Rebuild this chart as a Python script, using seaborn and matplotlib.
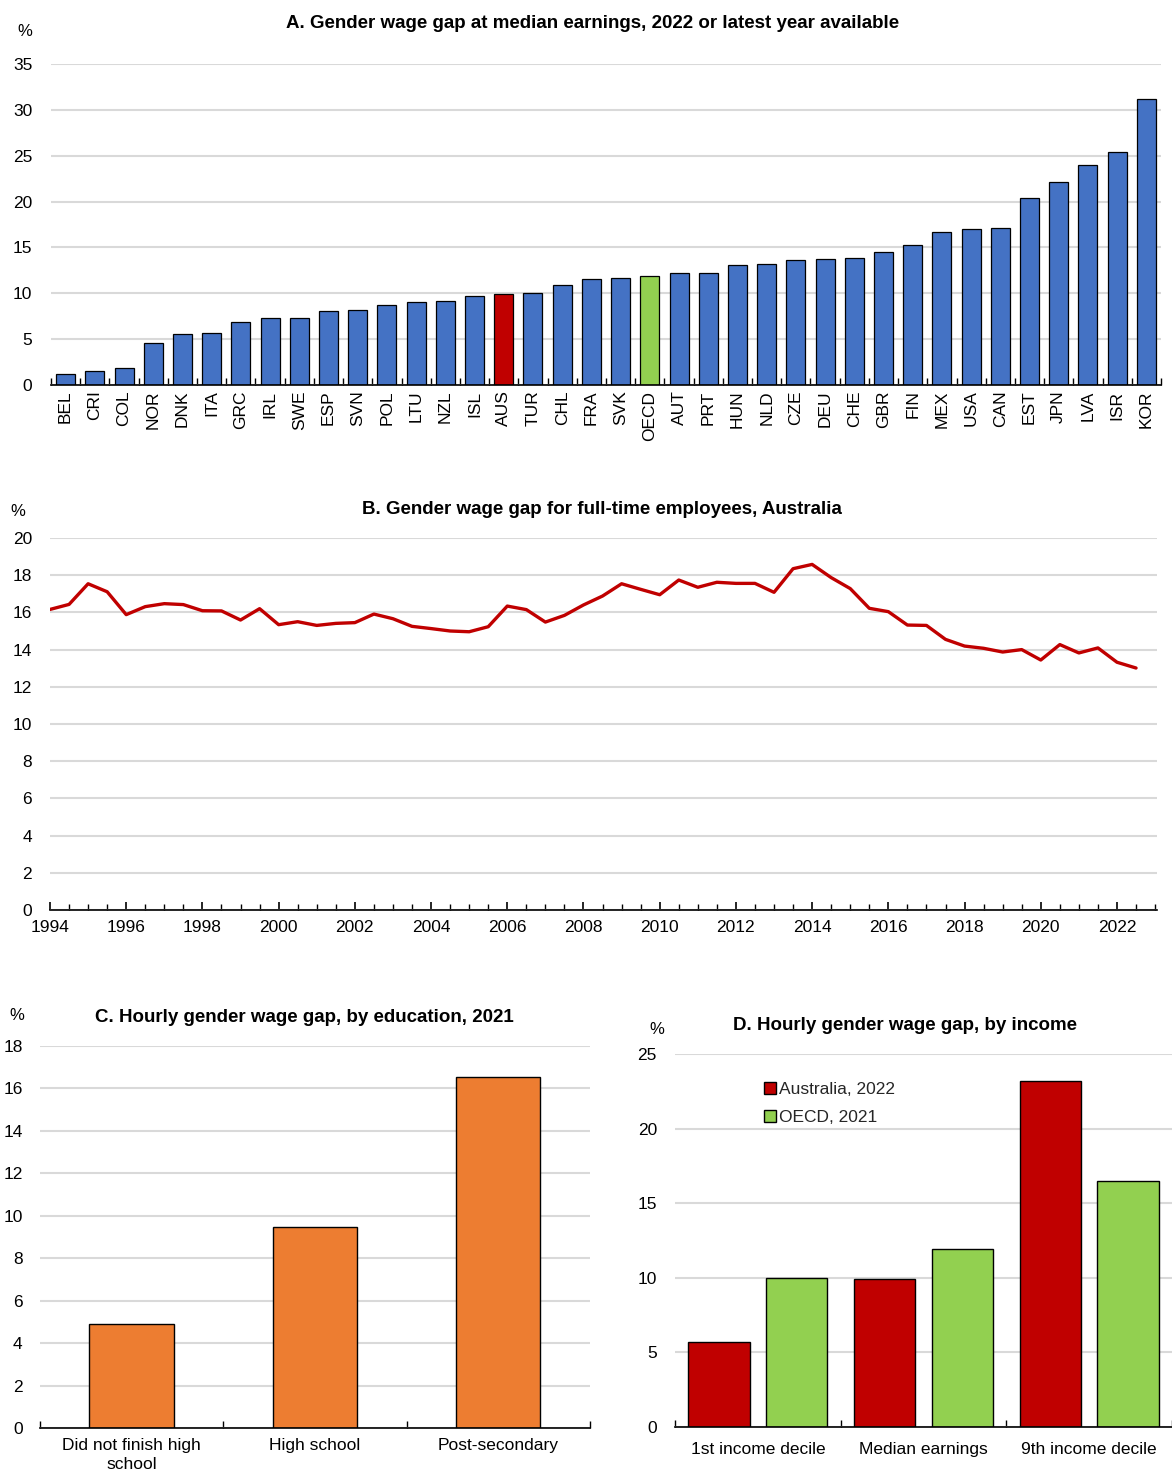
import numpy as np
import pandas as pd
import matplotlib.pyplot as plt
import seaborn as sns
from matplotlib.ticker import MultipleLocator, FixedLocator

# Panel A: gender wage gap at median earnings
countries = ["BEL", "CRI", "COL", "NOR", "DNK", "ITA", "GRC", "IRL", "SWE", "ESP",
             "SVN", "POL", "LTU", "NZL", "ISL", "AUS", "TUR", "CHL", "FRA", "SVK",
             "OECD", "AUT", "PRT", "HUN", "NLD", "CZE", "DEU", "CHE", "GBR", "FIN",
             "MEX", "USA", "CAN", "EST", "JPN", "LVA", "ISR", "KOR"]
gap_median = [1.2, 1.5, 1.9, 4.6, 5.6, 5.7, 6.9, 7.3, 7.3, 8.1,
              8.2, 8.7, 9.0, 9.2, 9.7, 9.9, 10.0, 10.9, 11.6, 11.7,
              11.9, 12.2, 12.2, 13.1, 13.2, 13.6, 13.7, 13.8, 14.5, 15.3,
              16.7, 17.0, 17.1, 20.4, 22.1, 24.0, 25.4, 31.2]

# Panel B: full-time employees, Australia (half-yearly)
periods = [1994.0, 1994.5, 1995.0, 1995.5, 1996.0, 1996.5, 1997.0, 1997.5, 1998.0, 1998.5,
           1999.0, 1999.5, 2000.0, 2000.5, 2001.0, 2001.5, 2002.0, 2002.5, 2003.0, 2003.5,
           2004.0, 2004.5, 2005.0, 2005.5, 2006.0, 2006.5, 2007.0, 2007.5, 2008.0, 2008.5,
           2009.0, 2009.5, 2010.0, 2010.5, 2011.0, 2011.5, 2012.0, 2012.5, 2013.0, 2013.5,
           2014.0, 2014.5, 2015.0, 2015.5, 2016.0, 2016.5, 2017.0, 2017.5, 2018.0, 2018.5,
           2019.0, 2019.5, 2020.0, 2020.5, 2021.0, 2021.5, 2022.0, 2022.5]
gap_fulltime = [16.16, 16.43, 17.54, 17.11, 15.88, 16.31, 16.47, 16.42, 16.09, 16.08,
                15.59, 16.20, 15.34, 15.50, 15.30, 15.41, 15.45, 15.91, 15.66, 15.25,
                15.13, 15.00, 14.96, 15.23, 16.34, 16.15, 15.48, 15.84, 16.40, 16.88,
                17.54, 17.24, 16.95, 17.74, 17.35, 17.62, 17.56, 17.56, 17.08, 18.35,
                18.58, 17.87, 17.28, 16.22, 16.04, 15.32, 15.30, 14.55, 14.19, 14.07,
                13.87, 14.00, 13.44, 14.27, 13.82, 14.09, 13.32, 13.01]

# Panel C: by education
education = ["Did not finish high\nschool", "High school", "Post-secondary"]
gap_education = [4.9, 9.45, 16.55]

# Panel D: by income
income_groups = ["1st income decile", "Median earnings", "9th income decile"]
gap_aus_2022 = [5.7, 9.9, 23.2]
gap_oecd_2021 = [10.0, 11.9, 16.5]

BLUE, RED, GREEN, ORANGE = "#4472C4", "#C00000", "#92D050", "#ED7D31"
GRID = "#d9d9d9"

sns.set_theme(style="white")
plt.rcParams['font.family'] = ['Liberation Sans Narrow', 'Liberation Sans', 'DejaVu Sans']
plt.rcParams['font.size'] = 12.5

fig = plt.figure(figsize=(11.72, 14.74), dpi=100)
W, H = 1172, 1474


def add_ax(left, top, right, bottom):
    return fig.add_axes([left / W, 1 - bottom / H, (right - left) / W, (bottom - top) / H])


def style_ax(ax, pad=13.5):
    for s in ["top", "right", "left"]:
        ax.spines[s].set_visible(False)
    ax.spines["bottom"].set_color("black")
    ax.spines["bottom"].set_linewidth(1.2)
    ax.yaxis.grid(True, color=GRID, linewidth=1.5)
    ax.set_axisbelow(True)
    ax.tick_params(axis="y", length=0, pad=pad, labelsize=12.5, colors="black")
    ax.set_xlabel("")
    ax.set_ylabel("")


def cat_ticks(ax, n):
    ax.set_xlim(-0.5, n - 0.5)
    ax.xaxis.set_minor_locator(FixedLocator(np.arange(-0.5, n, 1.0)))
    ax.tick_params(axis="x", which="major", length=0, colors="black")
    ax.tick_params(axis="x", which="minor", length=5, width=1, direction="in",
                   color="black", bottom=True)


# ---- Panel A
axA = add_ax(51, 64, 1161, 385)
dfA = pd.DataFrame({"country": countries, "gap": gap_median})
palA = {c: BLUE for c in countries}
palA["AUS"] = RED
palA["OECD"] = GREEN
sns.barplot(data=dfA, x="country", y="gap", hue="country", palette=palA, saturation=1,
            width=0.65, edgecolor="black", linewidth=0.9, legend=False, ax=axA)
style_ax(axA, pad=13.5)
axA.set_ylim(0, 35)
axA.yaxis.set_major_locator(MultipleLocator(5))
cat_ticks(axA, len(countries))
axA.tick_params(axis="x", which="major", labelrotation=90, labelsize=12.5, pad=4)

# ---- Panel B
axB = add_ax(50, 538, 1157, 910)
dfB = pd.DataFrame({"period": periods, "gap": gap_fulltime})
sns.lineplot(data=dfB, x="period", y="gap", color=RED, linewidth=2.4, ax=axB)
style_ax(axB, pad=13)
axB.set_ylim(0, 20)
axB.set_xlim(1994, 2023.05)
axB.yaxis.set_major_locator(MultipleLocator(2))
axB.xaxis.set_major_locator(MultipleLocator(2))
axB.xaxis.set_minor_locator(MultipleLocator(0.5))
axB.tick_params(axis="x", which="major", length=6, width=1.2, direction="in",
                bottom=True, labelsize=12.5, pad=7, colors="black")
axB.tick_params(axis="x", which="minor", length=4, width=1, direction="in",
                bottom=True, color="black")

# ---- Panel C
axC = add_ax(40, 1046, 590, 1428)
dfC = pd.DataFrame({"education": education, "gap": gap_education})
sns.barplot(data=dfC, x="education", y="gap", color=ORANGE, saturation=1,
            width=0.46, edgecolor="black", linewidth=1.0, ax=axC)
style_ax(axC, pad=12.5)
axC.set_ylim(0, 18)
axC.yaxis.set_major_locator(MultipleLocator(2))
cat_ticks(axC, len(education))
axC.tick_params(axis="x", which="major", labelsize=12.5, pad=7)
for lab in axC.get_xticklabels():
    lab.set_linespacing(1.35)

# ---- Panel D
axD = add_ax(675, 1054, 1172, 1427)
dfD = pd.DataFrame({
    "group": income_groups * 2,
    "series": ["Australia, 2022"] * 3 + ["OECD, 2021"] * 3,
    "gap": gap_aus_2022 + gap_oecd_2021,
})
sns.barplot(data=dfD, x="group", y="gap", hue="series",
            palette={"Australia, 2022": RED, "OECD, 2021": GREEN}, saturation=1,
            width=0.936, gap=0.207, edgecolor="black", linewidth=1.0, ax=axD)
style_ax(axD, pad=13)
axD.set_ylim(0, 25)
axD.yaxis.set_major_locator(MultipleLocator(5))
cat_ticks(axD, len(income_groups))
axD.tick_params(axis="x", which="major", labelsize=12.5, pad=11)
axD.legend(loc="upper left", bbox_to_anchor=(0.18, 0.925), frameon=False,
           handlelength=0.65, handleheight=0.65, handletextpad=0.2,
           labelspacing=0.75, borderpad=0, borderaxespad=0, fontsize=12.5)

# ---- Titles and unit labels
title_kw = dict(fontsize=13.5, fontweight="bold", ha="center", va="center", color="black")
fig.text(593 / W, 1 - 23 / H, "A. Gender wage gap at median earnings, 2022 or latest year available", **title_kw)
fig.text(602 / W, 1 - 509 / H, "B. Gender wage gap for full-time employees, Australia", **title_kw)
fig.text(304 / W, 1 - 1017 / H, "C. Hourly gender wage gap, by education, 2021", **title_kw)
fig.text(905 / W, 1 - 1026 / H, "D. Hourly gender wage gap, by income", **title_kw)

pct_kw = dict(fontsize=12, ha="center", va="center", color="black")
fig.text(25 / W, 1 - 32 / H, "%", **pct_kw)
fig.text(18 / W, 1 - 512 / H, "%", **pct_kw)
fig.text(17 / W, 1 - 1015 / H, "%", **pct_kw)
fig.text(657 / W, 1 - 1029 / H, "%", **pct_kw)

fig.savefig("out.png", dpi=100, facecolor="white")
